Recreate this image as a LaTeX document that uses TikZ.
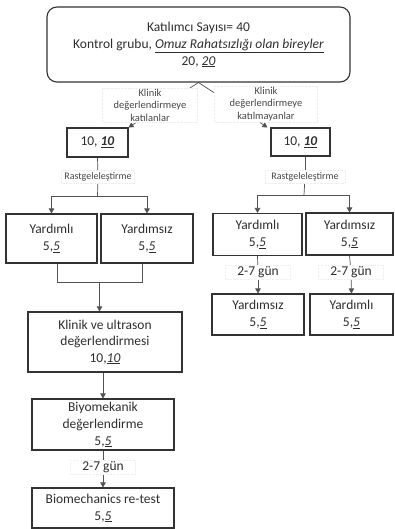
\documentclass[tikz,border=0pt]{standalone}
\usepackage{fontspec}
\setmainfont{Carlito}
\usetikzlibrary{arrows.meta,calc,backgrounds}
\begin{document}
\begin{tikzpicture}[x=1pt,y=-1pt,
  box/.style={draw=black!80, line width=1.1pt, align=center, inner sep=0pt, text=black!82,
    font=\fontsize{13.5}{17}\selectfont},
  lbl/.style={fill=white, draw=black!7, densely dotted, align=center, inner sep=1pt, text=black!72,
    font=\fontsize{10.5}{12.5}\selectfont},
  gun/.style={fill=white, draw=black!6, densely dotted, inner sep=0pt, minimum width=65pt, minimum height=14pt,
    text=black!82, font=\fontsize{13.5}{15}\selectfont},
  conn/.style={draw=black!68, line width=0.7pt},
  arr/.style={conn, -{Triangle[length=5pt,width=5.5pt]}}]
\useasboundingbox (0,0) rectangle (395,529);

% boxes
\node[box, rounded corners=10pt, minimum width=303pt, minimum height=75pt] (top) at (198.5,44.5)
  {Katılımcı Sayısı= 40\\Kontrol grubu, \underline{\textit{Omuz Rahatsızlığı olan bireyler}}\\20, \underline{\textit{20}}};
\node[box, minimum width=61pt, minimum height=29pt] (L1) at (97.5,142.5) {10, \underline{\textbf{\textit{10}}}};
\node[box, minimum width=59pt, minimum height=28pt] (R1) at (300.5,142) {10, \underline{\textbf{\textit{10}}}};

\node[box, minimum width=91pt, minimum height=49pt] (A1) at (51.5,238.5) {Yardımlı\\5,\underline{\textit{5}}};
\node[box, minimum width=92pt, minimum height=49pt] (A2) at (147,238.5) {Yardımsız\\5,\underline{\textit{5}}};

\node[box, minimum width=89pt, minimum height=42pt] (B1) at (257.5,234.5) {Yardımlı\\5,\underline{\textit{5}}};
\node[box, minimum width=87pt, minimum height=42pt] (B2) at (349.5,234) {Yardımsız\\5,\underline{\textit{5}}};
\node[box, minimum width=92pt, minimum height=41pt] (C1) at (258,314.5) {Yardımsız\\5,\underline{\textit{5}}};
\node[box, minimum width=83pt, minimum height=41pt] (C2) at (351.5,314.5) {Yardımlı\\5,\underline{\textit{5}}};

\node[box, minimum width=154pt, minimum height=60pt, font=\fontsize{13.5}{16.5}\selectfont] (K) at (105,342)
  {Klinik ve ultrason\\değerlendirmesi\\10,\underline{\textit{10}}};
\node[box, minimum width=142pt, minimum height=51pt] (Bio) at (103,424.5)
  {Biyomekanik\\değerlendirme\\5,\underline{\textit{5}}};
\node[box, minimum width=142pt, minimum height=40pt] (Re) at (103,508)
  {Biomechanics re-test\\5,\underline{\textit{5}}};

% labels
\node[lbl, minimum width=95pt] (lblL) at (150,105) {Klinik\\değerlendirmeye\\katılanlar};
\node[lbl, minimum width=103pt] (lblR) at (266,104) {Klinik\\değerlendirmeye\\katılmayanlar};
\node[lbl, minimum width=73pt, minimum height=13pt, font=\fontsize{10}{12}\selectfont] (rL) at (98,177) {Rastgeleleştirme};
\node[lbl, minimum width=80pt, minimum height=13pt, font=\fontsize{10}{12}\selectfont] (rR) at (305,177) {Rastgeleleştirme};
\node[gun] (g1) at (258,272) {2-7 gün};
\node[gun] (g2) at (351,272) {2-7 gün};
\node[gun] (g3) at (103,467) {2-7 gün};

\coordinate (jL) at (97.5,196);
\coordinate (jR) at (304,195);
\coordinate (a1b) at ($(A1.south)+(5.5,0)$);
\coordinate (a2b) at ($(A2.south)+(-5,0)$);
\coordinate (m) at (99.5,282);

\begin{scope}[on background layer]
  \draw[arr] (top.south) -- (L1.north east);
  \draw[arr] (top.south) -- ($(R1.north west)+(-3,0)$);
  \draw[conn] (L1.south) -- (rL);
  \draw[conn] (rL) -- (jL);
  \draw[arr] (jL) -| (A1.north);
  \draw[arr] (jL) -| (A2.north);
  \draw[conn] (rR.center |- R1.south) -- (rR);
  \draw[conn] (rR) -- (jR);
  \draw[arr] (jR) -| (B1.north);
  \draw[arr] (jR) -| (B2.north);
  \draw[conn] (B1.south) -- (g1);
  \draw[arr] (g1) -- (C1.north);
  \draw[conn] (B2.south) -- (g2);
  \draw[arr] (g2) -- (C2.north);
  \draw[conn] (a1b) -- (a1b |- m) -- (a2b |- m) -- (a2b);
  \draw[arr] (m) -- (m |- K.north);
  \draw[arr] (Bio.north |- K.south) -- (Bio.north);
  \draw[conn] (Bio.south) -- (g3);
  \draw[arr] (g3) -- (Re.north);
\end{scope}
\end{tikzpicture}
\end{document}
